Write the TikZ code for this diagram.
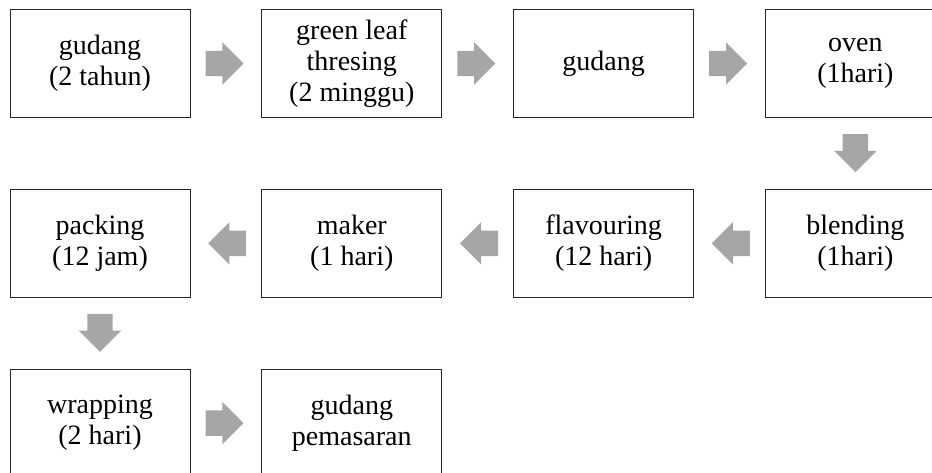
\documentclass[tikz,border=0pt]{standalone}
\usepackage{fontspec}
\setmainfont{Liberation Serif}
\usepackage{xcolor}
\definecolor{arrowgray}{HTML}{A6A6A6}
\definecolor{linedark}{HTML}{262626}
\usetikzlibrary{shapes.arrows, positioning}

\begin{document}
\begin{tikzpicture}[
        node distance=71pt and 71pt,
        box_node/.style={
            rectangle,
            draw=linedark,
            line width=0.8pt,
            fill=white,
            align=center,
            minimum width=180pt,
            minimum height=108pt,
            inner sep=0pt,
            font=\fontsize{28}{31}\selectfont
        },
        flow_arrow/.style={
            single arrow,
            fill=arrowgray,
            draw=none,
            inner xsep=0pt,
            inner ysep=12.5pt,
            minimum height=38pt,
            minimum width=42pt,
            single arrow head extend=8.5pt,
            shape border rotate=#1
        },
        down_arrow/.style={
            flow_arrow=270,
            inner xsep=12.5pt,
            inner ysep=0pt
        }
    ]

    \useasboundingbox (-100pt,63.5pt) rectangle (832pt,-408.5pt);
    \clip (-100pt,63.5pt) rectangle (832pt,-408.5pt);

    % Row 1 (left to right)
    \node[box_node] (gud1) at (0,0) {gudang\\(2 tahun)};
    \node[box_node, right=of gud1] (thresh) {green leaf\\thresing\\(2 minggu)};
    \node[box_node, right=of thresh] (gud2) {gudang};
    \node[box_node, right=of gud2] (oven) {oven\\(1hari)};

    % Row 2 (right to left)
    \node[box_node, below=of oven] (blend) {blending\\(1hari)};
    \node[box_node, left=of blend] (flav) {flavouring\\(12 hari)};
    \node[box_node, left=of flav] (maker) {maker\\(1 hari)};
    \node[box_node, left=of maker] (pack) {packing\\(12 jam)};

    % Row 3
    \node[box_node, below=of pack] (wrap) {wrapping\\(2 hari)};
    \node[box_node, right=of wrap] (market) {gudang\\pemasaran};

    % Arrows
    \node[flow_arrow=0, right=15pt of gud1] (a1) {};
    \node[flow_arrow=0, right=15pt of thresh] (a2) {};
    \node[flow_arrow=0, right=15pt of gud2] (a3) {};
    \node[down_arrow, below=16pt of oven] (a4) {};
    \node[flow_arrow=180, left=15pt of blend] (a5) {};
    \node[flow_arrow=180, left=15pt of flav] (a6) {};
    \node[flow_arrow=180, left=15pt of maker] (a7) {};
    \node[down_arrow, below=16pt of pack] (a8) {};
    \node[flow_arrow=0, right=15pt of wrap] (a9) {};

\end{tikzpicture}
\end{document}
